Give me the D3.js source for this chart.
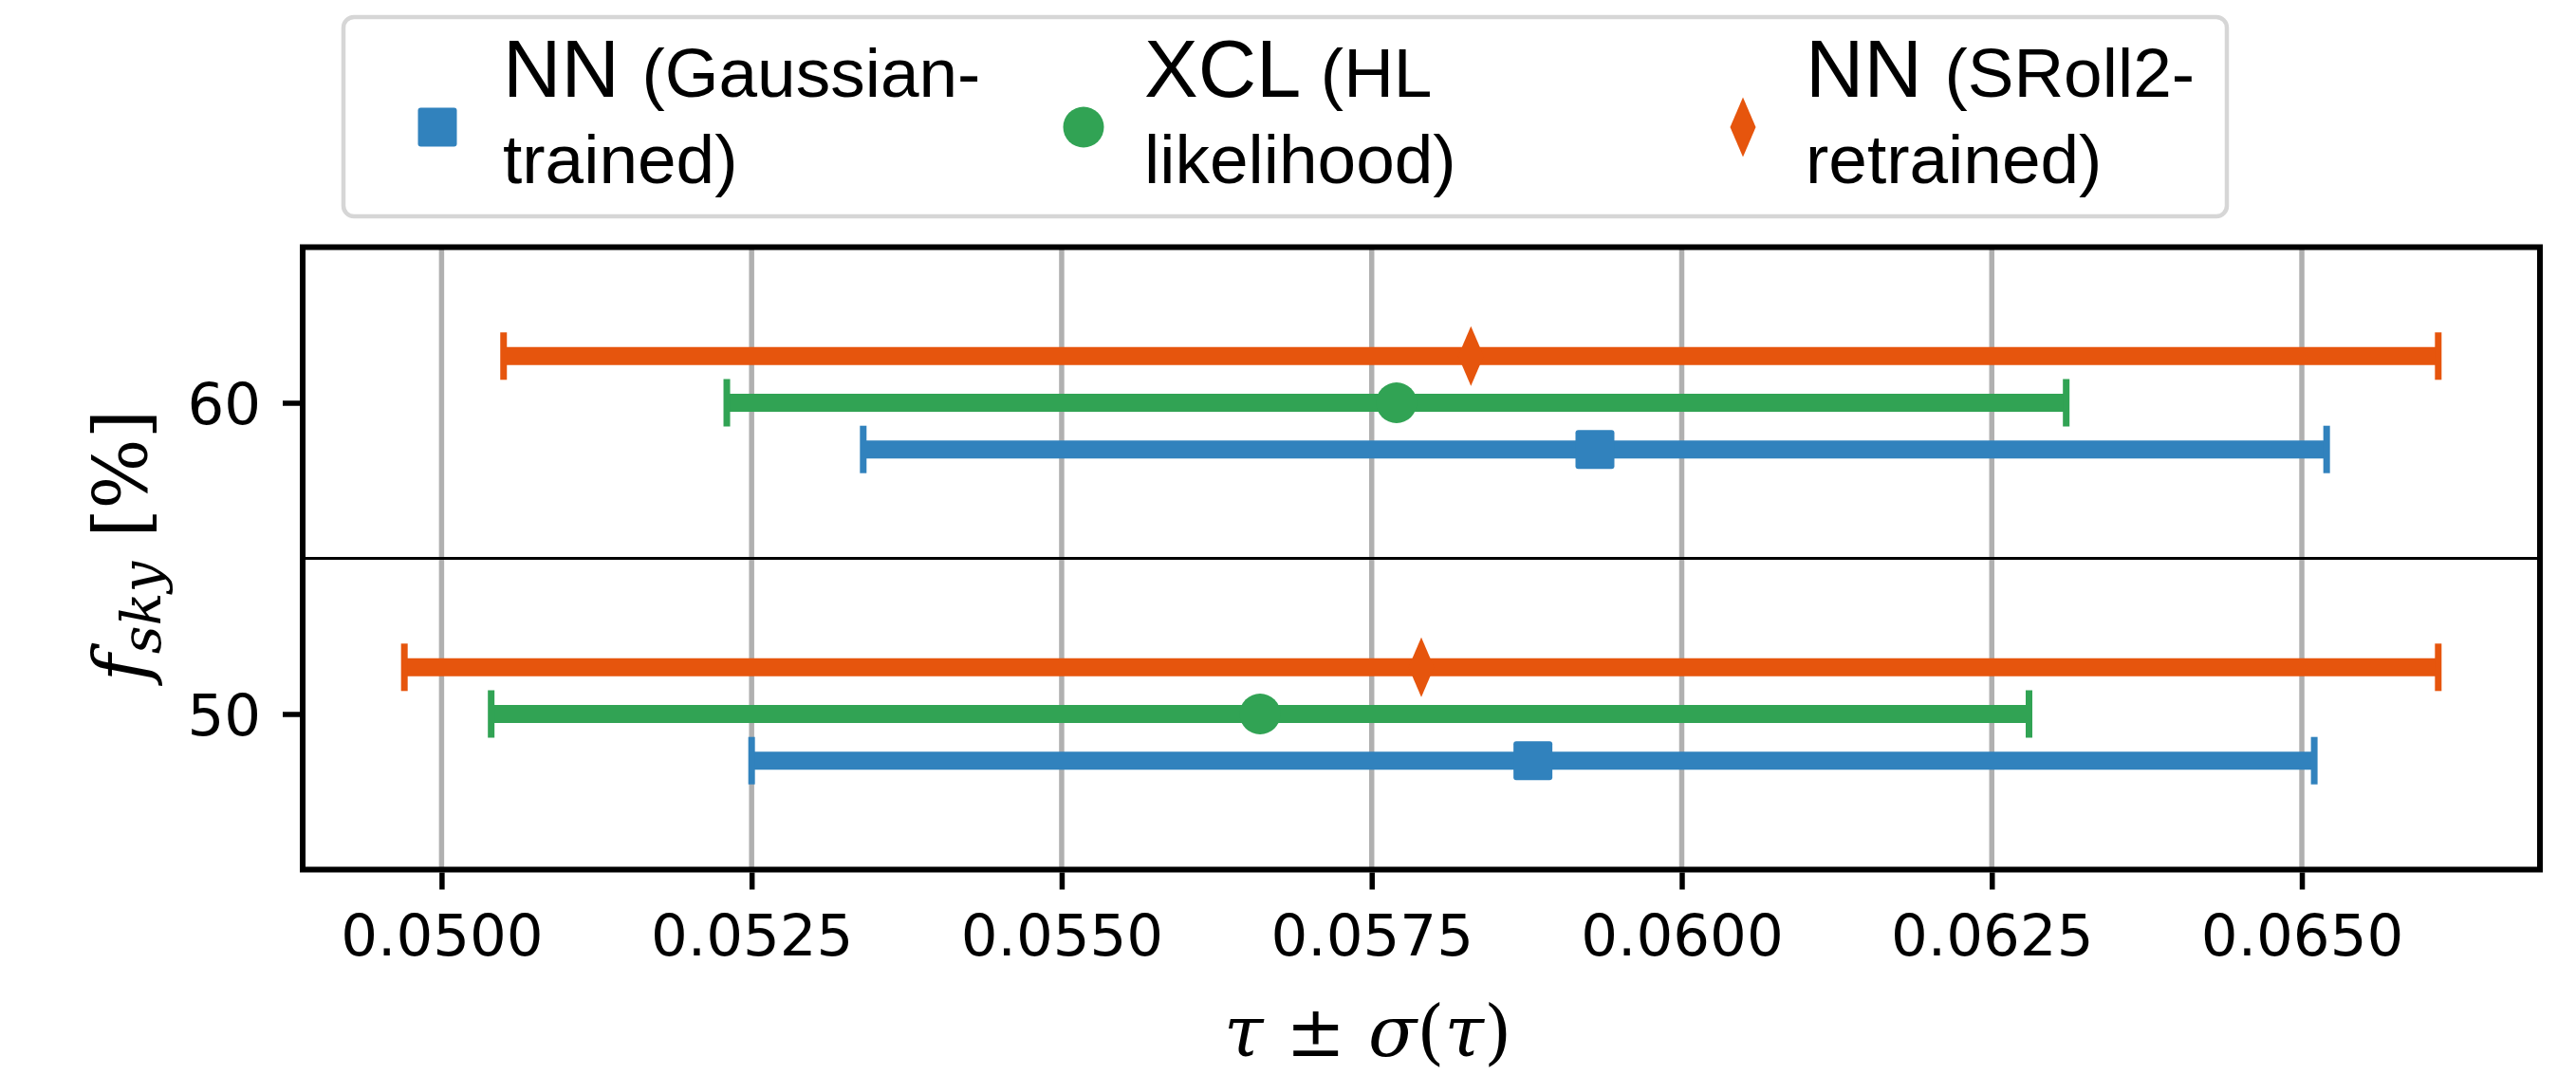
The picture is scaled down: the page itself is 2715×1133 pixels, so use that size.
<!DOCTYPE html>
<html>
<head>
<meta charset="utf-8">
<script src="https://cdn.jsdelivr.net/npm/d3@7"></script>
<style>
  html, body { margin: 0; padding: 0; background: #fff; }
  svg { display: block; }
  .tick text { font-family: "DejaVu Sans"; font-size: 61px; fill: #000; }
  .legend text { font-family: "Liberation Sans", Arial, sans-serif; fill: #000; }
</style>
</head>
<body>
<div id="chart"></div>
<script>
// f_sky categories (%)
var categories = [60, 50];
var xTicks = [0.0500, 0.0525, 0.0550, 0.0575, 0.0600, 0.0625, 0.0650];
var yTicks = [50, 60];

// tau and sigma(tau), one value per category
var nnGaussTau = [0.0593, 0.0588];
var nnGaussSigma = [0.0059, 0.0063];
var xclTau = [0.0577, 0.0566];
var xclSigma = [0.0054, 0.0062];
var nnSrollTau = [0.0583, 0.0579];
var nnSrollSigma = [0.0078, 0.0082];

var series = [
  {name: "NN", sub: "(Gaussian-", line2: "trained)", tau: nnGaussTau, sigma: nnGaussSigma,
   color: "#3182bd", shift: -1.5, marker: "square"},
  {name: "XCL", sub: "(HL", line2: "likelihood)", tau: xclTau, sigma: xclSigma,
   color: "#31a354", shift: 0, marker: "circle"},
  {name: "NN", sub: "(SRoll2-", line2: "retrained)", tau: nnSrollTau, sigma: nnSrollSigma,
   color: "#e6550d", shift: 1.5, marker: "diamond"}
];

var W = 2715, H = 1133;
var plot = {left: 319, right: 2677, top: 260.5, bottom: 916.5};

// x limits like matplotlib: data extent plus 5% margin
var lo = d3.min(series, function(s) { return d3.min(s.tau, function(t, i) { return t - s.sigma[i]; }); });
var hi = d3.max(series, function(s) { return d3.max(s.tau, function(t, i) { return t + s.sigma[i]; }); });
var pad = (hi - lo) * 0.05;

var x = d3.scaleLinear().domain([lo - pad, hi + pad]).range([plot.left, plot.right]);
var y = d3.scaleLinear().domain([45, 65]).range([plot.bottom, plot.top]);

var svg = d3.select("#chart").append("svg")
  .attr("width", W)
  .attr("height", H);

svg.append("rect").attr("width", W).attr("height", H).attr("fill", "#fff");

// grid
svg.append("g").selectAll("line")
  .data(xTicks)
  .enter().append("line")
  .attr("x1", function(d) { return x(d); })
  .attr("x2", function(d) { return x(d); })
  .attr("y1", plot.top)
  .attr("y2", plot.bottom)
  .attr("stroke", "#b0b0b0")
  .attr("stroke-width", 5.5);

// error bars
series.forEach(function(s) {
  var g = svg.append("g");
  var pts = s.tau.map(function(t, i) {
    return {tau: t, sigma: s.sigma[i], cat: categories[i]};
  });

  g.selectAll(".bar")
    .data(pts)
    .enter().append("line")
    .attr("x1", function(d) { return x(d.tau - d.sigma); })
    .attr("x2", function(d) { return x(d.tau + d.sigma); })
    .attr("y1", function(d) { return y(d.cat + s.shift); })
    .attr("y2", function(d) { return y(d.cat + s.shift); })
    .attr("stroke", s.color)
    .attr("stroke-width", 19);

  var caps = [];
  pts.forEach(function(d) {
    caps.push({v: d.tau - d.sigma, cat: d.cat});
    caps.push({v: d.tau + d.sigma, cat: d.cat});
  });
  g.selectAll(".cap")
    .data(caps)
    .enter().append("line")
    .attr("x1", function(d) { return x(d.v); })
    .attr("x2", function(d) { return x(d.v); })
    .attr("y1", function(d) { return y(d.cat + s.shift) - 25; })
    .attr("y2", function(d) { return y(d.cat + s.shift) + 25; })
    .attr("stroke", s.color)
    .attr("stroke-width", 7);

  pts.forEach(function(d) {
    drawMarker(g, s.marker, x(d.tau), y(d.cat + s.shift), s.color);
  });
});

function drawMarker(g, type, cx, cy, color) {
  if (type == "square") {
    g.append("rect")
      .attr("x", cx - 20.5).attr("y", cy - 20.5)
      .attr("width", 41).attr("height", 41)
      .attr("rx", 3)
      .attr("fill", color);
  } else if (type == "circle") {
    g.append("circle")
      .attr("cx", cx).attr("cy", cy).attr("r", 21.5)
      .attr("fill", color);
  } else {
    g.append("path")
      .attr("d", "M" + cx + "," + (cy - 31.5) + "L" + (cx + 13.5) + "," + cy +
                 "L" + cx + "," + (cy + 31.5) + "L" + (cx - 13.5) + "," + cy + "Z")
      .attr("fill", color);
  }
}

// separator between the two f_sky rows
svg.append("line")
  .attr("x1", plot.left).attr("x2", plot.right)
  .attr("y1", y(55)).attr("y2", y(55))
  .attr("stroke", "#000")
  .attr("stroke-width", 2.8);

// axes
var xAxis = svg.append("g")
  .attr("transform", "translate(0," + (plot.bottom + 3) + ")")
  .call(d3.axisBottom(x).tickValues(xTicks).tickFormat(d3.format(".4f")).tickSize(18).tickPadding(26).tickSizeOuter(0));
xAxis.select(".domain").remove();
xAxis.selectAll(".tick line").attr("stroke", "#000").attr("stroke-width", 5.5);

var yAxis = svg.append("g")
  .attr("transform", "translate(" + (plot.left - 3) + ",0)")
  .call(d3.axisLeft(y).tickValues(yTicks).tickSize(18).tickPadding(23).tickSizeOuter(0));
yAxis.select(".domain").remove();
yAxis.selectAll(".tick line").attr("stroke", "#000").attr("stroke-width", 5.5);
yAxis.selectAll(".tick text").attr("dy", "0.36em");

// frame
svg.append("rect")
  .attr("x", plot.left).attr("y", plot.top)
  .attr("width", plot.right - plot.left)
  .attr("height", plot.bottom - plot.top)
  .attr("fill", "none")
  .attr("stroke", "#000")
  .attr("stroke-width", 6);

// axis labels
var xl = svg.append("text")
  .attr("x", 1290).attr("y", 1113)
  .style("font-family", "DejaVu Serif")
  .style("font-size", "75px");
xl.append("tspan").style("font-style", "italic").text("τ");
xl.append("tspan").text(" ± ");
xl.append("tspan").style("font-style", "italic").text("σ");
xl.append("tspan").text("(");
xl.append("tspan").style("font-style", "italic").text("τ");
xl.append("tspan").text(")");

var yl = svg.append("text")
  .attr("transform", "translate(155,575) rotate(-90)")
  .attr("text-anchor", "middle")
  .style("font-family", "DejaVu Serif")
  .style("font-size", "78px");
yl.append("tspan").style("font-style", "italic").text("f");
yl.append("tspan").style("font-style", "italic").style("font-size", "58px").attr("dy", 14).text("sky");
yl.append("tspan").attr("dy", -14).text(" [%]");

// legend
var legend = svg.append("g").attr("class", "legend");
legend.append("rect")
  .attr("x", 362).attr("y", 18)
  .attr("width", 2347 - 362).attr("height", 228 - 18)
  .attr("rx", 11)
  .attr("fill", "#fff")
  .attr("stroke", "#d6d6d6")
  .attr("stroke-width", 4.5);

var legendMarkerX = [461, 1142, 1837];
var legendTextX = [530, 1206, 1903];

series.forEach(function(s, i) {
  drawMarker(legend, s.marker, legendMarkerX[i], 134, s.color);
  var t = legend.append("text").attr("x", legendTextX[i]).attr("y", 102);
  t.append("tspan").style("font-size", "85px").text(s.name + " ");
  t.append("tspan").style("font-size", "73px").text(s.sub);
  legend.append("text")
    .attr("x", legendTextX[i]).attr("y", 193)
    .style("font-size", "73px")
    .text(s.line2);
});
</script>
</body>
</html>
